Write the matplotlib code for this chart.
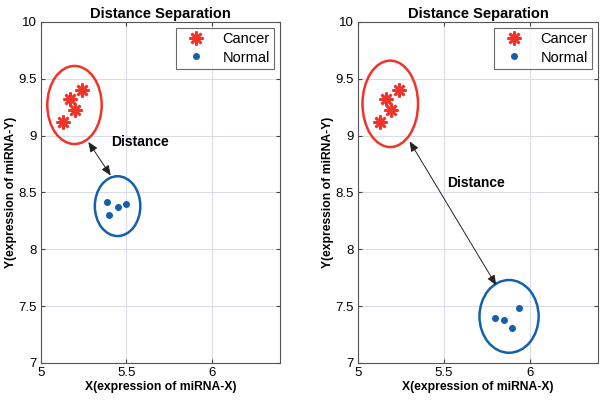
import matplotlib
matplotlib.use("Agg")
from matplotlib import pyplot as plt
from matplotlib.patches import Ellipse

plt.rcParams['font.family'] = ['Liberation Sans', 'DejaVu Sans']

RED = '#f0342a'
BLUE = '#1360ad'

# left panel
cancer_x1 = [5.13, 5.17, 5.20, 5.24]
cancer_y1 = [9.12, 9.32, 9.23, 9.40]
normal_x1 = [5.39, 5.40, 5.45, 5.50]
normal_y1 = [8.42, 8.30, 8.37, 8.40]
red_ell1 = (5.197, 9.27, 0.318, 0.687)
blue_ell1 = (5.449, 8.38, 0.266, 0.526)
arrow1 = ((5.278, 8.945), (5.409, 8.649))
label1 = (5.409, 8.94)

# right panel
cancer_x2 = [5.13, 5.16, 5.19, 5.24]
cancer_y2 = [9.12, 9.32, 9.23, 9.40]
normal_x2 = [5.80, 5.85, 5.90, 5.94]
normal_y2 = [7.40, 7.38, 7.31, 7.48]
red_ell2 = (5.187, 9.28, 0.324, 0.76)
blue_ell2 = (5.88, 7.41, 0.345, 0.64)
arrow2 = ((5.30, 8.95), (5.805, 7.684))
label2 = (5.519, 8.585)

xticks = [5, 5.5, 6]
xticklabels = ['5', '5.5', '6']
yticks = [7, 7.5, 8, 8.5, 9, 9.5, 10]
yticklabels = ['7', '7.5', '8', '8.5', '9', '9.5', '10']

panels = [
    (cancer_x1, cancer_y1, normal_x1, normal_y1, red_ell1, blue_ell1, arrow1, label1),
    (cancer_x2, cancer_y2, normal_x2, normal_y2, red_ell2, blue_ell2, arrow2, label2),
]

fig = plt.figure(figsize=(6, 4), dpi=100)
boxes = [[0.068, 0.0925, 0.399, 0.8525], [0.597, 0.0925, 0.400, 0.8525]]

for box, (cx, cy, nx, ny, rell, bell, arr, lab) in zip(boxes, panels):
    ax = fig.add_axes(box)
    ax.set_xlim(5, 6.4)
    ax.set_ylim(7, 10)
    ax.grid(True, color='#dcdce6', lw=0.8)
    ax.set_axisbelow(True)
    ax.plot(cx, cy, linestyle='none', marker=(8, 2, 0), markersize=10,
            markeredgewidth=1.9, color=RED, label='Cancer')
    ax.plot(nx, ny, linestyle='none', marker='o', markersize=4,
            color=BLUE, label='Normal')
    ax.add_patch(Ellipse(rell[:2], rell[2], rell[3], fill=False, ec=RED, lw=1.8))
    ax.add_patch(Ellipse(bell[:2], bell[2], bell[3], fill=False, ec=BLUE, lw=1.8))
    ax.annotate('', xy=arr[1], xytext=arr[0],
                arrowprops=dict(arrowstyle='<|-|>,head_length=0.6,head_width=0.25',
                                color='#222222', lw=0.7, shrinkA=0, shrinkB=0))
    ax.text(lab[0], lab[1], 'Distance', fontsize=10, fontweight='bold',
            ha='left', va='center')
    ax.set_xticks(xticks)
    ax.set_xticklabels(xticklabels)
    ax.set_yticks(yticks)
    ax.set_yticklabels(yticklabels)
    ax.tick_params(direction='in', top=True, right=True, labelsize=9.5,
                   length=3, color='#444444', pad=3)
    for s in ax.spines.values():
        s.set_color('#555555')
        s.set_linewidth(0.8)
    ax.set_title('Distance Separation', fontsize=10.5, fontweight='bold', pad=3)
    ax.set_xlabel('X(expression of miRNA-X)', fontsize=8.7, fontweight='bold', labelpad=1)
    ax.set_ylabel('Y(expression of miRNA-Y)', fontsize=8.7, fontweight='bold', labelpad=1)
    leg = ax.legend(loc='upper right', fontsize=10.5, fancybox=False,
                    handletextpad=0.8, borderpad=0.3, labelspacing=0.3,
                    borderaxespad=0.4, handlelength=2.1)
    leg.get_frame().set_edgecolor('#444444')
    leg.get_frame().set_linewidth(0.8)

fig.savefig('out.png', dpi=100)
